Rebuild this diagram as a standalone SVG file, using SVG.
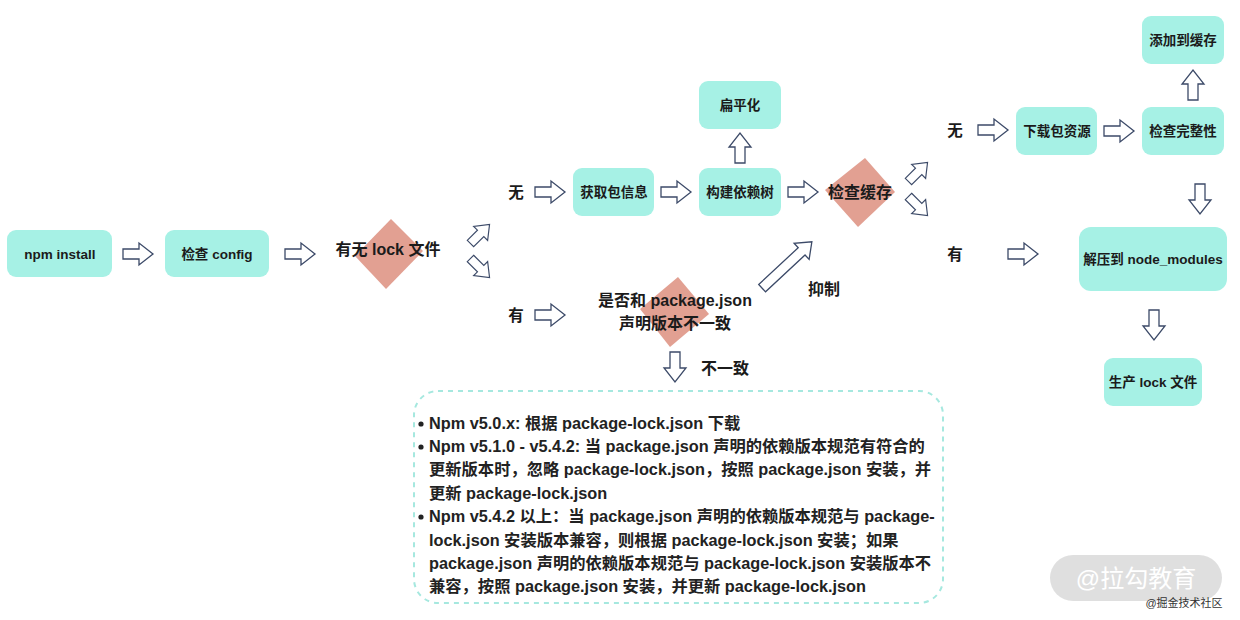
<svg xmlns="http://www.w3.org/2000/svg" xmlns:xlink="http://www.w3.org/1999/xlink" width="1240" height="620" viewBox="0 0 1240 620">
<style>
text{font-family:"Liberation Sans","Noto Sans CJK SC",sans-serif;font-weight:bold;fill:#1b1b1b}
.box{fill:#a6f1e5}
.nt{font-size:13.5px;text-anchor:middle}
.dia{fill:#e2a092}
.dt{font-size:16px;text-anchor:middle}
.lb{font-size:15.5px;text-anchor:middle}
.arr{fill:#fff;stroke:#3c4a68;stroke-width:1.3;stroke-linejoin:miter}
.bt{font-size:16.3px;font-weight:600;fill:#222}
.bl{fill:#222}
</style>
<defs>
<path id="a" class="arr" d="M-15,-5H1V-11L15,0L1,11V5H-15Z"/>
<path id="al" class="arr" d="M-34,-5H20V-11L34,0L20,11V5H-34Z"/>
</defs>
<rect width="1240" height="620" fill="#fff"/>

<g id="connectors">
<use xlink:href="#a" transform="translate(138,254)"/>
<use xlink:href="#a" transform="translate(300,254)"/>
<use xlink:href="#a" transform="translate(480,234) rotate(-45) scale(0.9)"/>
<use xlink:href="#a" transform="translate(480,268) rotate(45) scale(0.9)"/>
<use xlink:href="#a" transform="translate(550,192)"/>
<use xlink:href="#a" transform="translate(550,315)"/>
<use xlink:href="#a" transform="translate(676,192)"/>
<use xlink:href="#a" transform="translate(740,148) rotate(-90)"/>
<use xlink:href="#a" transform="translate(803,192)"/>
<use xlink:href="#a" transform="translate(918,172) rotate(-45) scale(0.9)"/>
<use xlink:href="#a" transform="translate(918,206) rotate(45) scale(0.9)"/>
<use xlink:href="#al" transform="translate(787,265) rotate(-43)"/>
<use xlink:href="#a" transform="translate(675,367) rotate(90)"/>
<use xlink:href="#a" transform="translate(993,130)"/>
<use xlink:href="#a" transform="translate(1119,131)"/>
<use xlink:href="#a" transform="translate(1193,85) rotate(-90)"/>
<use xlink:href="#a" transform="translate(1200,199) rotate(90)"/>
<use xlink:href="#a" transform="translate(1023,254)"/>
<use xlink:href="#a" transform="translate(1154,325) rotate(90)"/>
</g>

<g id="labels">
<text class="lb" x="516" y="198">无</text>
<text class="lb" x="516" y="321">有</text>
<text class="lb" x="955" y="136">无</text>
<text class="lb" x="955" y="260">有</text>
<text class="dt" x="824" y="295">抑制</text>
<text class="dt" x="725" y="374">不一致</text>
</g>

<g id="n-npm-install"><rect class="box" x="7" y="230" width="105" height="47" rx="9"/><text class="nt" x="60" y="259">npm install</text></g>
<g id="n-check-config"><rect class="box" x="165" y="230" width="104" height="47" rx="9"/><text class="nt" x="217" y="259">检查 config</text></g>
<g id="n-lock"><polygon class="dia" points="391,219 423,251 386,289 355,256"/><text class="dt" x="388" y="255">有无 lock 文件</text></g>
<g id="n-fetch"><rect class="box" x="573" y="168" width="81" height="48" rx="9"/><text class="nt" x="614" y="197">获取包信息</text></g>
<g id="n-build"><rect class="box" x="699" y="168" width="82" height="48" rx="9"/><text class="nt" x="740" y="197">构建依赖树</text></g>
<g id="n-flat"><rect class="box" x="699" y="81" width="82" height="48" rx="9"/><text class="nt" x="740" y="110">扁平化</text></g>
<g id="n-cache"><polygon class="dia" points="865,158 895,192 858,227 825,190"/><text class="dt" x="860" y="198">检查缓存</text></g>
<g id="n-pkg"><polygon class="dia" points="678,277 709,314 670,347 640,309"/><text class="dt" x="675" y="306">是否和 package.json</text><text class="dt" x="675" y="329">声明版本不一致</text></g>
<g id="n-download"><rect class="box" x="1016" y="107" width="81" height="48" rx="9"/><text class="nt" x="1057" y="136">下载包资源</text></g>
<g id="n-integrity"><rect class="box" x="1142" y="107" width="82" height="48" rx="9"/><text class="nt" x="1183" y="136">检查完整性</text></g>
<g id="n-addcache"><rect class="box" x="1142" y="16" width="82" height="48" rx="9"/><text class="nt" x="1183" y="45">添加到缓存</text></g>
<g id="n-unzip"><rect class="box" x="1079" y="227" width="148" height="64" rx="12"/><text class="nt" x="1153" y="264">解压到 node_modules</text></g>
<g id="n-genlock"><rect class="box" x="1104" y="358" width="98" height="48" rx="9"/><text class="nt" x="1153" y="387">生产 lock 文件</text></g>

<g id="n-notes">
<rect x="414" y="391" width="529" height="212" rx="24" fill="none" stroke="#a6e8df" stroke-width="2" stroke-dasharray="5,5"/>
<circle class="bl" cx="421" cy="424" r="2.6"/>
<circle class="bl" cx="421" cy="447" r="2.6"/>
<circle class="bl" cx="421" cy="517" r="2.6"/>
<text class="bt" x="429" y="429">Npm v5.0.x: 根据 package-lock.json 下载</text>
<text class="bt" x="429" y="452">Npm v5.1.0 - v5.4.2: 当 package.json 声明的依赖版本规范有符合的</text>
<text class="bt" x="429" y="475">更新版本时，忽略 package-lock.json，按照 package.json 安装，并</text>
<text class="bt" x="429" y="499">更新 package-lock.json</text>
<text class="bt" x="429" y="522">Npm v5.4.2 以上：当 package.json 声明的依赖版本规范与 package-</text>
<text class="bt" x="429" y="546">lock.json 安装版本兼容，则根据 package-lock.json 安装；如果</text>
<text class="bt" x="429" y="569">package.json 声明的依赖版本规范与 package-lock.json 安装版本不</text>
<text class="bt" x="429" y="592">兼容，按照 package.json 安装，并更新 package-lock.json</text>
</g>

<g id="watermark">
<rect x="1050" y="555" width="172" height="46" rx="23" fill="#d9d9d9" opacity="0.85"/>
<text x="1136" y="587" style="font-size:24px;font-weight:normal;fill:#fff;text-anchor:middle">@拉勾教育</text>
<text x="1184" y="607" style="font-size:11px;font-weight:normal;fill:#333;text-anchor:middle">@掘金技术社区</text>
</g>
</svg>
